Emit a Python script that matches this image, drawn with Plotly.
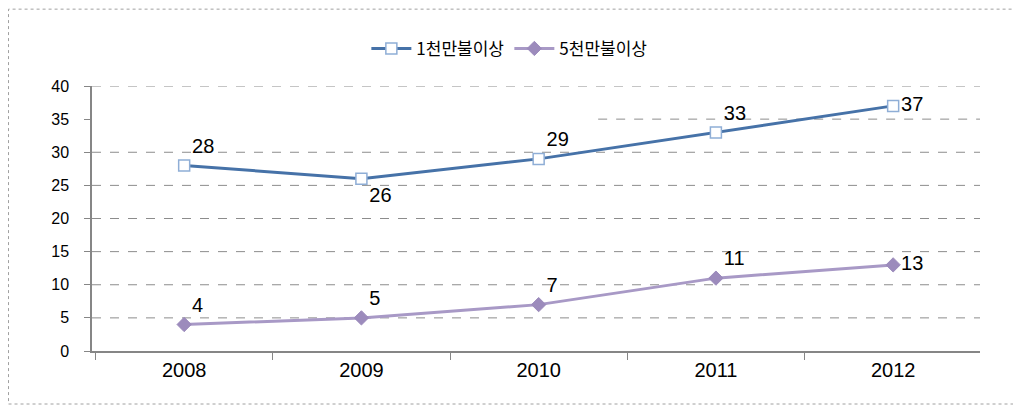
import plotly.graph_objects as go

years = ["2008", "2009", "2010", "2011", "2012"]
s1_name = "1천만불이상"
s1_vals = [28, 26, 29, 33, 37]
s1_pos = ["top right", "bottom right", "top right", "top right", "middle right"]
s2_name = "5천만불이상"
s2_vals = [4, 5, 7, 11, 13]
s2_pos = ["top right", "top right", "top right", "top right", "middle right"]
y_ticks = [0, 5, 10, 15, 20, 25, 30, 35, 40]

SANS = "Liberation Sans, Arial"

fig = go.Figure()
fig.add_trace(go.Scatter(
    x=years, y=s1_vals, name=s1_name, mode="lines+markers+text",
    text=[str(v) for v in s1_vals], textposition=s1_pos,
    textfont=dict(family=SANS, size=20, color="#000"),
    line=dict(color="#4672A8", width=3),
    marker=dict(symbol="square", size=11, color="white", line=dict(color="#8FAED6", width=1.5)),
))
fig.add_trace(go.Scatter(
    x=years, y=s2_vals, name=s2_name, mode="lines+markers+text",
    text=[str(v) for v in s2_vals], textposition=s2_pos,
    textfont=dict(family=SANS, size=20, color="#000"),
    line=dict(color="#A899C6", width=3),
    marker=dict(symbol="diamond", size=11, color="#9C8BBC", line=dict(color="#9C8BBC", width=1)),
))

shapes = []
for t in y_ticks[1:]:
    x0 = 0.57 if t == 35 else 0
    shapes.append(dict(type="line", xref="paper", yref="y", x0=x0, x1=1, y0=t, y1=t,
                       line=dict(color="#8C8C8C", width=1, dash="dash"), layer="below"))
shapes.append(dict(type="rect", xref="paper", yref="paper", x0=-0.094, x1=1.039, y0=-0.2, y1=1.29,
                   line=dict(color="#A0A0A0", width=1, dash="dot")))

fig.update_layout(
    width=1021, height=406,
    margin=dict(l=84, r=49, t=78, b=63),
    paper_bgcolor="white", plot_bgcolor="white",
    showlegend=True,
    legend=dict(orientation="h", x=0.47, xanchor="center", y=1.14, yanchor="middle",
                font=dict(family="Noto Sans CJK KR", size=17, color="#000"),
                itemwidth=40, tracegroupgap=0),
    shapes=shapes,
    font=dict(family=SANS, color="#000"),
)
fig.update_xaxes(
    type="category", range=[-0.52, 4.49], showgrid=False,
    showline=True, linecolor="#868686", linewidth=1.5,
    ticks="outside", tickson="boundaries", ticklen=7, tickcolor="#868686",
    tickfont=dict(family=SANS, size=20, color="#000"),
)
fig.update_yaxes(
    range=[0, 40], tickvals=y_ticks, showgrid=False, zeroline=False,
    showline=True, linecolor="#868686", linewidth=1.5,
    ticks="outside", ticklen=6, tickcolor="#868686", ticklabelstandoff=12,
    tickfont=dict(family=SANS, size=16, color="#000"),
)

fig.write_html("out.html")
